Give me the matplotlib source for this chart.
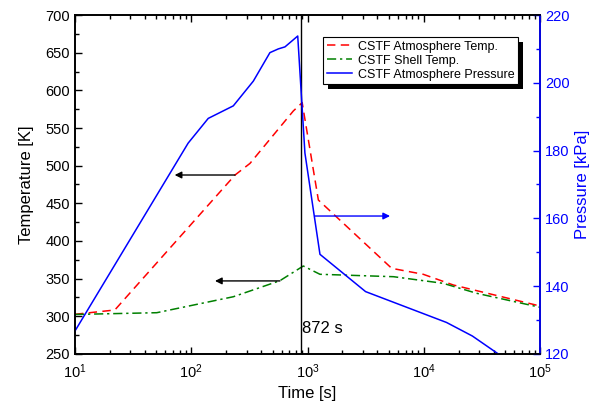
import numpy as np
import matplotlib
matplotlib.use("Agg")
import matplotlib.pyplot as plt
from matplotlib.patches import Rectangle
from matplotlib.transforms import IdentityTransform
from matplotlib.ticker import LogLocator, MultipleLocator, LogFormatterSciNotation

plt.rcParams['font.family'] = ['Liberation Sans', 'DejaVu Sans']
plt.rcParams['mathtext.default'] = 'regular'

# CSTF atmosphere temperature [K]
t_atm = [10, 22, 238, 320, 755, 900, 1240, 5300, 9900, 17960, 100000]
temp_atm = [302.7, 308.4, 487.6, 503.0, 572.6, 583.6, 454.4, 363.7, 355.8, 341.6, 313.7]

# CSTF shell temperature [K]
t_shell = [10, 50.5, 230, 579, 920, 1280, 5500, 14700, 28500, 100000]
temp_shell = [302.5, 304.8, 326.0, 347.3, 366.8, 355.8, 352.6, 343.8, 330.6, 312.0]

# CSTF atmosphere pressure [kPa]
t_press = [10, 94, 140, 230, 342, 475, 561, 640, 824, 950, 1280, 3160, 15700, 26200, 46000]
press = [126.8, 182.2, 189.5, 193.2, 200.5, 208.9, 210.0, 210.6, 213.8, 179.3, 149.4, 138.4, 129.3, 125.3, 119.5]

t_mark = 872

fig = plt.figure(figsize=(6.02, 4.09), dpi=100)
ax = fig.add_axes([0.1246, 0.1345, 0.7724, 0.8288])
ax2 = ax.twinx()

l1, = ax.plot(t_atm, temp_atm, color='#ff0000', lw=1.1, ls=(0, (5.5, 3.5)),
              label='CSTF Atmosphere Temp.')
l2, = ax.plot(t_shell, temp_shell, color='#008000', lw=1.1, ls=(0, (6, 2.5, 1.5, 2.5)),
              label='CSTF Shell Temp.')
l3, = ax2.plot(t_press, press, color='#0000ff', lw=1.1, label='CSTF Atmosphere Pressure')

ax.set_xscale('log')
ax.set_xlim(10, 1e5)
ax.set_ylim(250, 700)
ax2.set_ylim(120, 220)

ax.axvline(t_mark, color='black', lw=1)
ax.text(890, 284, '872 s', fontsize=12, va='center', ha='left')

# direction arrows
arr = dict(arrowstyle='-|>', color='black', lw=1, mutation_scale=10, shrinkA=0, shrinkB=0)
ax.annotate('', xy=(72, 487.6), xytext=(238, 487.6), arrowprops=arr)
ax.annotate('', xy=(160, 347), xytext=(579, 347), arrowprops=arr)
arr_b = dict(arr, color='#0000ff')
ax2.annotate('', xy=(5130, 160.7), xytext=(1161, 160.7), arrowprops=arr_b)

ax.xaxis.set_major_locator(LogLocator(base=10, numticks=10))
ax.xaxis.set_minor_locator(LogLocator(base=10, subs=np.arange(2, 10), numticks=20))
ax.xaxis.set_major_formatter(LogFormatterSciNotation())
ax.yaxis.set_major_locator(MultipleLocator(50))
ax.yaxis.set_minor_locator(MultipleLocator(25))
ax2.yaxis.set_major_locator(MultipleLocator(20))
ax2.yaxis.set_minor_locator(MultipleLocator(10))

ax.tick_params(which='both', direction='in', top=True, right=False, labelsize=10.5, width=1)
ax.tick_params(which='major', length=5)
ax.tick_params(which='minor', length=3)
ax.tick_params(axis='x', pad=6)
ax2.tick_params(which='both', direction='in', colors='#0000ff', labelsize=10.5, width=1)
ax2.tick_params(which='major', length=5)
ax2.tick_params(which='minor', length=3)

for s in ax.spines.values():
    s.set_linewidth(1.2)
for s in ax2.spines.values():
    s.set_linewidth(1.2)
ax2.spines['right'].set_color('#0000ff')

ax.set_xlabel('Time [s]', fontsize=12)
ax.set_ylabel('Temperature [K]', fontsize=12, labelpad=8)
ax2.set_ylabel('Pressure [kPa]', fontsize=12, color='#0000ff')

leg = ax2.legend(handles=[l1, l2, l3], loc='upper left', bbox_to_anchor=(0.533, 0.935),
                 fontsize=9, frameon=True, fancybox=False, edgecolor='black', framealpha=1,
                 borderpad=0.3, handlelength=2.0, handletextpad=0.5,
                 labelspacing=0.15, borderaxespad=0)
leg.get_frame().set_linewidth(0.8)
leg.set_zorder(6)

# offset black shadow behind the legend box
fig.canvas.draw()
bb = leg.get_window_extent()
shadow = Rectangle((bb.x0 + 5, bb.y0 - 5), bb.width, bb.height, transform=IdentityTransform(),
                   facecolor='black', edgecolor='none', zorder=5.5, clip_on=False)
ax2.add_artist(shadow)

fig.savefig('out.png', dpi=100)
